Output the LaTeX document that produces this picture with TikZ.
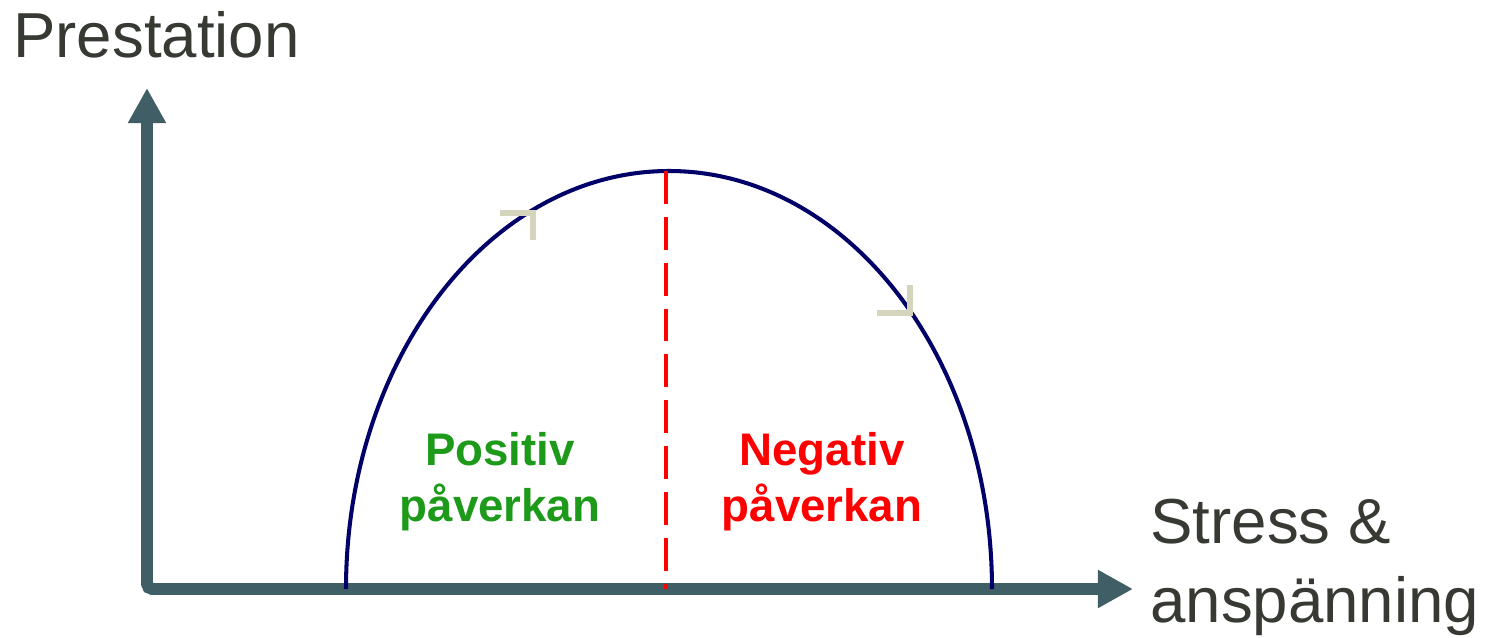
\documentclass[tikz,border=0pt]{standalone}
\usepackage{fontspec}
\setmainfont{Liberation Sans}
\usetikzlibrary{arrows.meta}
\definecolor{axisgray}{HTML}{3F5E65}
\definecolor{curvenavy}{HTML}{000068}
\definecolor{markbeige}{HTML}{D5D5BE}
\definecolor{textgray}{HTML}{363A33}
\definecolor{posgreen}{HTML}{1E9A1A}
\begin{document}
\begin{tikzpicture}[x=0.02cm,y=0.02cm,
		axis/.style={line width=6.8pt,color=axisgray,rounded corners=3pt},
		curve/.style={line width=2.3pt,color=curvenavy},
		midline/.style={line width=2.3pt,color=red,dash pattern=on 18.7pt off 7.4pt},
		corner/.style={line width=3.4pt,color=markbeige},
		bigtext/.style={inner sep=0pt,text=textgray,font=\fontsize{36.2}{44.8}\selectfont},
		effect/.style={inner sep=0pt,align=center,font=\fontsize{26}{31.7}\selectfont\bfseries}]
	\useasboundingbox (0,0) rectangle (1489,637);
	% axes
	\coordinate (ytop) at (147,549);
	\coordinate (xend) at (1133,48);
	\draw[axis,{Triangle[length=20pt,width=20.4pt]}-{Triangle[length=20pt,width=20.4pt]}] (ytop) |- (xend);
	% curve and middle line
	\draw[curve] (346,48) arc[start angle=180,end angle=0,x radius=323,y radius=418];
	\coordinate (peak) at (666,466);
	\coordinate (foot) at (666,48);
	\draw[midline] (peak) -- (foot);
	% small corner marks
	\draw[corner] (500,424) -- (533,424) -- (533,397);
	\draw[corner] (910,352) -- (910,324) -- (877,324);
	% labels
	\node[bigtext,anchor=base west] (ylabel) at (13,580) {Prestation};
	\node[bigtext,anchor=base west,align=left] (xlabel) at (1150,15) {Stress \&\\anspänning};
	\node[effect,anchor=base,text=posgreen] (pos) at (500,116) {Positiv\\påverkan};
	\node[effect,anchor=base,text=red] (neg) at (822,116) {Negativ\\påverkan};
\end{tikzpicture}
\end{document}
